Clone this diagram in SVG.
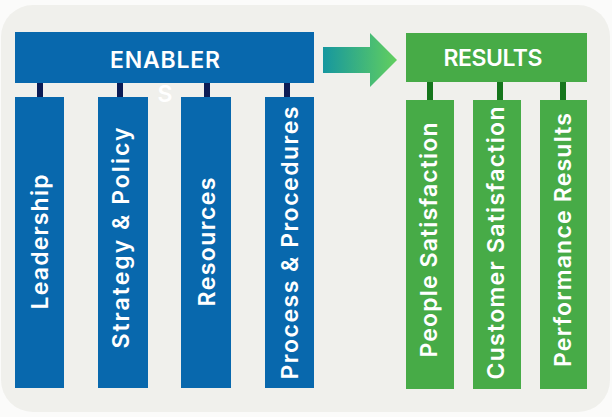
<svg xmlns="http://www.w3.org/2000/svg" width="612" height="417" viewBox="0 0 612 417">
  <style>
    .enabler { fill: #0868ad; }
    .result { fill: #47ab47; }
    .tick-blue { fill: #0c1c55; }
    .tick-green { fill: #16761c; }
    .head { font-family: Inter, "Open Sans", sans-serif; font-weight: 600; font-size: 23px; fill: #ffffff; text-anchor: middle; dominant-baseline: central; }
    .label { font-family: Inter, "Open Sans", sans-serif; font-weight: 600; font-size: 23px; fill: #ffffff; text-anchor: middle; dominant-baseline: central; }
  </style>
  <defs>
    <linearGradient id="flow" x1="0" y1="0" x2="1" y2="0">
      <stop offset="0" stop-color="#16979f"/>
      <stop offset="1" stop-color="#62cf5e"/>
    </linearGradient>
  </defs>

  <rect x="0" y="0" width="612" height="417" fill="#fbfbfa"/>
  <rect x="1" y="5" width="609" height="407" rx="32" fill="#f0f0ec"/>

  <!-- connectors -->
  <g id="connectors">
    <rect class="tick-blue" x="37" y="83" width="6" height="14"/>
    <rect class="tick-blue" x="117" y="83" width="6" height="14"/>
    <rect class="tick-blue" x="204" y="83" width="6" height="14"/>
    <rect class="tick-blue" x="284" y="83" width="6" height="14"/>
    <rect class="tick-green" x="427" y="82" width="6" height="18"/>
    <rect class="tick-green" x="497" y="82" width="6" height="18"/>
    <rect class="tick-green" x="560" y="82" width="6" height="18"/>
    <path d="M323 47 H370 V33 L397 60 L370 87 V73 H323 Z" fill="url(#flow)"/>
  </g>

  <g id="enablers">
    <rect class="enabler" x="15" y="32" width="299" height="51"/>
    <text class="head" x="165" y="60" textLength="110" lengthAdjust="spacing">ENABLER</text>
    <text class="head" x="165" y="94">S</text>
  </g>

  <g id="leadership">
    <rect class="enabler" x="15" y="97" width="49" height="291"/>
    <text class="label" transform="translate(40 242) rotate(-90)" textLength="135" lengthAdjust="spacing">Leadership</text>
  </g>
  <g id="strategy-policy">
    <rect class="enabler" x="98" y="97" width="50" height="291"/>
    <text class="label" transform="translate(121 238) rotate(-90)" textLength="221" lengthAdjust="spacing">Strategy &amp; Policy</text>
  </g>
  <g id="resources">
    <rect class="enabler" x="181" y="97" width="50" height="291"/>
    <text class="label" transform="translate(207 242) rotate(-90)" textLength="129" lengthAdjust="spacing">Resources</text>
  </g>
  <g id="process-procedures">
    <rect class="enabler" x="265" y="97" width="49" height="291"/>
    <text class="label" transform="translate(290 243) rotate(-90)" textLength="273" lengthAdjust="spacing">Process &amp; Procedures</text>
  </g>

  <g id="results">
    <rect class="result" x="406" y="33" width="181" height="49"/>
    <text class="head" x="493" y="58" textLength="99" lengthAdjust="spacing">RESULTS</text>
  </g>

  <g id="people-satisfaction">
    <rect class="result" x="406" y="100" width="48" height="289"/>
    <text class="label" transform="translate(429 240) rotate(-90)" textLength="235" lengthAdjust="spacing">People Satisfaction</text>
  </g>
  <g id="customer-satisfaction">
    <rect class="result" x="473" y="100" width="48" height="289"/>
    <text class="label" transform="translate(496 243) rotate(-90)" textLength="273" lengthAdjust="spacing">Customer Satisfaction</text>
  </g>
  <g id="performance-results">
    <rect class="result" x="540" y="100" width="47" height="289"/>
    <text class="label" transform="translate(563 240) rotate(-90)" textLength="254" lengthAdjust="spacing">Performance Results</text>
  </g>
</svg>
